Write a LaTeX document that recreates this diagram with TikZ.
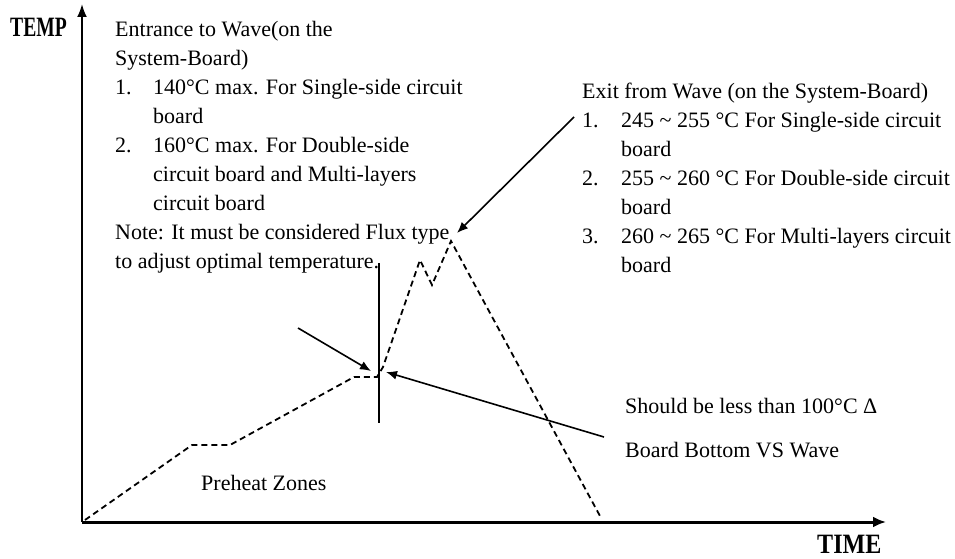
\documentclass[tikz,border=0pt]{standalone}
\usepackage{fontspec}
\setmainfont{Liberation Serif}
\usepackage{array}
\usetikzlibrary{arrows.meta}

\begin{document}
\begin{tikzpicture}[x=1pt,y=-1pt,
    txt/.style={anchor=base west,inner sep=0pt,font=\fontsize{22}{29}\selectfont},
    axlbl/.style={anchor=base west,inner sep=0pt,font=\fontsize{28}{28}\selectfont\bfseries},
    pointer/.style={line width=1.6pt,-{Latex[length=11pt,width=9pt]}},
    profile/.style={line width=1.8pt,dash pattern=on 6pt off 4pt}]
    \useasboundingbox (0,0) rectangle (955,559);

    % Axes
    \coordinate (O) at (82,522);
    \coordinate (ytip) at (82,4);
    \coordinate (xtip) at (886,522);
    \draw[line width=2pt,-{Latex[length=13pt,width=10pt]}] (O) -- (ytip);
    \draw[line width=3pt,-{Latex[length=13pt,width=11pt]}] (O) -- (xtip);
    \node[axlbl] (temp) at (10,37) {\scalebox{0.70}[1]{TEMP}};
    \node[axlbl] (time) at (817,553) {\scalebox{0.86}[1]{TIME}};

    % Entrance to wave
    \node[txt] (entrance) at (115,37) {\begin{tabular}[t]{@{}p{38pt}@{}l@{}}
        \multicolumn{2}{@{}l@{}}{Entrance to Wave(on the}\\
        \multicolumn{2}{@{}l@{}}{System-Board)}\\
        1. & 140°C max. For Single-side circuit\\
           & board\\
        2. & 160°C max. For Double-side\\
           & circuit board and Multi-layers\\
           & circuit board\\
        \multicolumn{2}{@{}l@{}}{Note: It must be considered Flux type}\\
        \multicolumn{2}{@{}l@{}}{to adjust optimal temperature.}
    \end{tabular}};

    % Exit from wave
    \node[txt] (exit) at (582,99) {\begin{tabular}[t]{@{}p{39pt}@{}l@{}}
        \multicolumn{2}{@{}l@{}}{Exit from Wave (on the System-Board)}\\
        1. & 245 \textasciitilde{} 255 °C For Single-side circuit\\
           & board\\
        2. & 255 \textasciitilde{} 260 °C For Double-side circuit\\
           & board\\
        3. & 260 \textasciitilde{} 265 °C For Multi-layers circuit\\
           & board
    \end{tabular}};

    % Bottom notes
    \node[txt] (delta) at (625,413) {Should be less than 100°C Δ};
    \node[txt] (bottom) at (625,457) {Board Bottom VS Wave};
    \node[txt] (preheat) at (201,490) {Preheat Zones};

    % Temperature profile
    \draw[profile] (85,520) -- (192,445) -- (230,445) -- (354,377) -- (377,377)
        -- (383,367) -- (420,260) -- (432,285) -- (451,241) -- (600,516);
    \draw[line width=2.8pt] (379,263) -- (379,423);

    % Pointers
    \coordinate (a1s) at (298,328);
    \coordinate (a1e) at (371,371);
    \coordinate (a2s) at (604,437);
    \coordinate (a2e) at (386,372);
    \coordinate (a3s) at (574,117);
    \coordinate (a3e) at (457,233);
    \draw[pointer] (a1s) -- (a1e);
    \draw[pointer] (a2s) -- (a2e);
    \draw[pointer] (a3s) -- (a3e);
\end{tikzpicture}
\end{document}
